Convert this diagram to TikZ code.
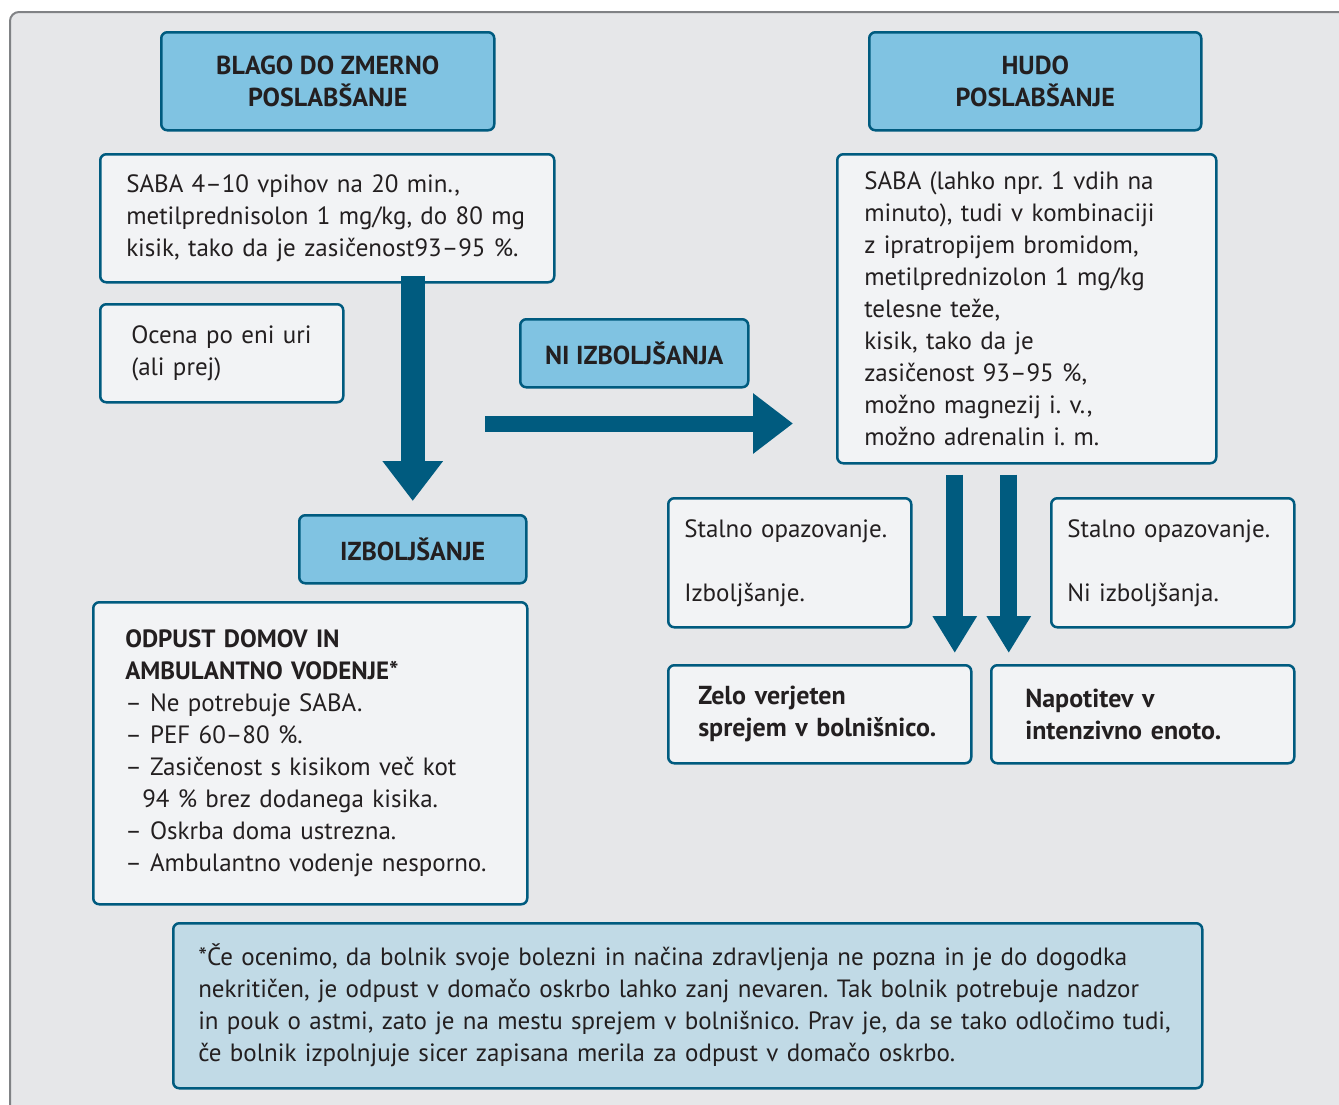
\documentclass[tikz,border=0pt]{standalone}
\usepackage{fontspec}
\setmainfont{PT Sans}
\usepackage{xcolor}
\usepackage{tikz}
\usetikzlibrary{positioning, arrows.meta, calc}
\definecolor{panelgray}{HTML}{E6E7E9}
\definecolor{framegray}{HTML}{808285}
\definecolor{asthmablue}{HTML}{80C3E2}
\definecolor{asthmateal}{HTML}{005B7F}
\definecolor{boxwhite}{HTML}{F2F3F5}
\definecolor{noteblue}{HTML}{C1DAE6}
\definecolor{inkblack}{HTML}{231F20}
\frenchspacing

\tikzset{
  panelbox/.style={draw=asthmateal, line width=2.5pt, rounded corners=6pt, anchor=north west,
    inner ysep=0pt, text=inkblack, font=\fontsize{25}{32}\selectfont},
  titlebox/.style={panelbox, fill=asthmablue, align=center, font=\fontsize{26}{32}\selectfont\bfseries},
  textbox/.style={panelbox, fill=boxwhite, align=left},
  boxsize/.style n args={3}{minimum width=#1, minimum height=#2, inner xsep=#3, text width=#1-2*#3},
  widearrow/.style={draw=asthmateal, line width=#1, -{Triangle[length=40pt, width=58pt]}},
  slimarrow/.style={draw=asthmateal, line width=17pt, -{Triangle[length=37pt, width=42pt]}},
}

\begin{document}
\begin{tikzpicture}[x=1pt, y=-1pt]
  \useasboundingbox (0,0) rectangle (1339,1104);
  \clip (0,0) rectangle (1339,1104);
  \draw[fill=panelgray, draw=framegray, line width=2pt, rounded corners=9pt] (10,12) rectangle (1380,1140);

  % titles
  \node[titlebox, minimum width=333, minimum height=98] (mild) at (160,31) {BLAGO DO ZMERNO\\POSLABŠANJE};
  \node[titlebox, minimum width=332, minimum height=98] (severe) at (868,31) {HUDO\\POSLABŠANJE};

  % left column
  \node[textbox, boxsize={454}{128}{26}] (sabaL) at (99,153) {%
    SABA 4–10 vpihov na 20 min.,\\
    metilprednisolon 1 mg/kg, do 80 mg\\
    kisik, tako da je zasičenost93–95 \%.};
  \node[textbox, boxsize={243}{98}{31}] (review) at (99,303) {\mbox{Ocena po eni uri}\\(ali prej)};
  \node[titlebox, minimum width=228, minimum height=68] (noimpr) at (519,318) {NI IZBOLJŠANJA};
  \node[titlebox, minimum width=227, minimum height=68] (impr) at (298,514) {IZBOLJŠANJE};
  \node[textbox, boxsize={434}{302}{32}] (discharge) at (92,601) {%
    \textbf{ODPUST DOMOV IN}\\
    \textbf{AMBULANTNO VODENJE*}\\
    – Ne potrebuje SABA.\\
    – PEF 60–80 \%.\\
    – Zasičenost s kisikom več kot\\
    \hspace*{17pt}94 \% brez dodanega kisika.\\
    – Oskrba doma ustrezna.\\
    – Ambulantno vodenje nesporno.};

  % right column
  \node[textbox, boxsize={379}{309}{27}] (sabaR) at (836,153) {%
    SABA (lahko npr. 1 vdih na\\
    minuto), tudi v kombinaciji\\
    z ipratropijem bromidom,\\
    metilprednizolon 1 mg/kg\\
    telesne teže,\\
    kisik, tako da je\\
    zasičenost 93–95 \%,\\
    možno magnezij i. v.,\\
    možno adrenalin i. m.};
  \node[textbox, boxsize={243}{129}{16}] (watchL) at (667,497) {Stalno opazovanje.\\[32pt]Izboljšanje.};
  \node[textbox, boxsize={243}{129}{16}] (watchR) at (1050,497) {Stalno opazovanje.\\[32pt]Ni izboljšanja.};
  \node[textbox, boxsize={303}{98}{30}, font=\fontsize{26}{32}\selectfont\bfseries] (ward) at (667,664) {Zelo verjeten\\sprejem v bolnišnico.};
  \node[textbox, boxsize={303}{98}{34}, font=\fontsize{26}{32}\selectfont\bfseries] (icu) at (990,664) {Napotitev v\\intenzivno enoto.};

  % footnote
  \node[panelbox, fill=noteblue, align=left, boxsize={1029}{165}{25}] (note) at (172,922) {%
    *Če ocenimo, da bolnik svoje bolezni in načina zdravljenja ne pozna in je do dogodka\\
    nekritičen, je odpust v domačo oskrbo lahko zanj nevaren. Tak bolnik potrebuje nadzor\\
    in pouk o astmi, zato je na mestu sprejem v bolnišnico. Prav je, da se tako odločimo tudi,\\
    če bolnik izpolnjuje sicer zapisana merila za odpust v domačo oskrbo.};

  % arrows
  \draw[widearrow=24pt] ([yshift=8pt]sabaL.south -| impr.north) -- ([yshift=13pt]impr.north);
  \draw[widearrow=16pt] ([xshift=-34pt, yshift=-35pt]noimpr.south west) coordinate (hstart)
    -- ([xshift=-43pt]sabaR.west |- hstart);
  \draw[slimarrow] ([xshift=-72pt, yshift=-10pt]sabaR.south) coordinate (vstartL)
    -- ([yshift=11pt]vstartL |- ward.north);
  \draw[slimarrow] ([xshift=-18pt, yshift=-10pt]sabaR.south) coordinate (vstartR)
    -- ([yshift=11pt]vstartR |- icu.north);
\end{tikzpicture}
\end{document}
